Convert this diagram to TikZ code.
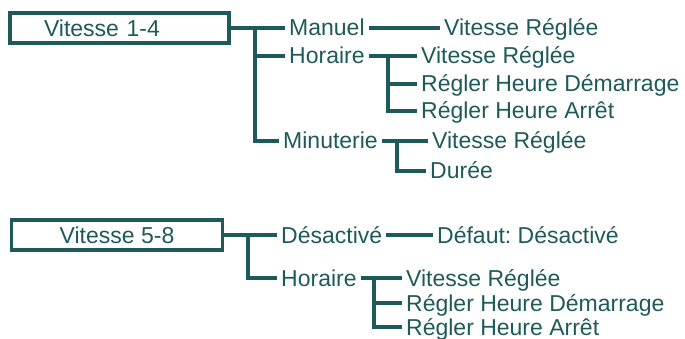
\documentclass[tikz,border=0pt]{standalone}
\usepackage{fontspec}
\setmainfont{Liberation Sans}
\usepackage{xcolor}
\usetikzlibrary{positioning}

\definecolor{menuteal}{RGB}{30,90,90}

\begin{document}
\frenchspacing
\begin{tikzpicture}[x=1pt,y=-1pt,
  every node/.style={text=menuteal, font=\fontsize{23}{26}\selectfont},
  menubox/.style={draw=menuteal, line width=3.2pt, minimum height=30pt, inner sep=0pt},
  entry/.style={anchor=west, inner xsep=4pt, inner ysep=0pt, text height=16pt, text depth=0pt},
  link/.style={menuteal, line width=3.2pt}]

\useasboundingbox (0,0) rectangle (685,339);

\begin{scope}{
% speeds 1-4
\node[menubox, text width=219pt, align=left] (v14) at (119.5,28) {\hspace*{34pt}Vitesse 1-4};

\node[entry] (man) at (285,28) {Manuel};
\node[entry] (hor) at (285,56) {Horaire};
\node[entry] (mnt) at (279,141) {Minuterie};

\node[entry] (vrA) at (440,28) {Vitesse Réglée};

\node[entry] (vrB) at (417,56) {Vitesse Réglée};
\node[entry] (rhdA) at (417,84) {Régler Heure Démarrage};
\node[entry] (rhaA) at (417,111) {Régler Heure Arrêt};

\node[entry] (vrC) at (428,141) {Vitesse Réglée};
\node[entry] (dur) at (426,171) {Durée};

\coordinate (jA) at (255,28);
\coordinate (jB) at (388,56);
\coordinate (jC) at (397,141);

%lines
{
\draw[link] (v14.east) -- (man.west);
\draw[link] (jA) |- (hor.west);
\draw[link] (jA) |- (mnt.west);
\draw[link] (man.east) -- (vrA.west);

\draw[link] (hor.east) -- (vrB.west);
\draw[link] (jB) |- (rhdA.west);
\draw[link] (jB) |- (rhaA.west);

\draw[link] (mnt.east) -- (vrC.west);
\draw[link] (jC) |- (dur.west);
}
} \end{scope}

\begin{scope}{
% speeds 5-8
\node[menubox, minimum width=211pt] (v58) at (117,235) {Vitesse 5-8};

\node[entry] (dsc) at (277,235) {Désactivé};
\node[entry] (horB) at (277,278) {Horaire};

\node[entry] (dft) at (433,235) {Défaut: Désactivé};

\node[entry] (vrD) at (402,278) {Vitesse Réglée};
\node[entry] (rhdB) at (402,303) {Régler Heure Démarrage};
\node[entry] (rhaB) at (402,327) {Régler Heure Arrêt};

\coordinate (jD) at (248,235);
\coordinate (jE) at (374,278);

%lines
{
\draw[link] (v58.east) -- (dsc.west);
\draw[link] (jD) |- (horB.west);
\draw[link] (dsc.east) -- (dft.west);

\draw[link] (horB.east) -- (vrD.west);
\draw[link] (jE) |- (rhdB.west);
\draw[link] (jE) |- (rhaB.west);
}
} \end{scope}

\end{tikzpicture}
\end{document}
